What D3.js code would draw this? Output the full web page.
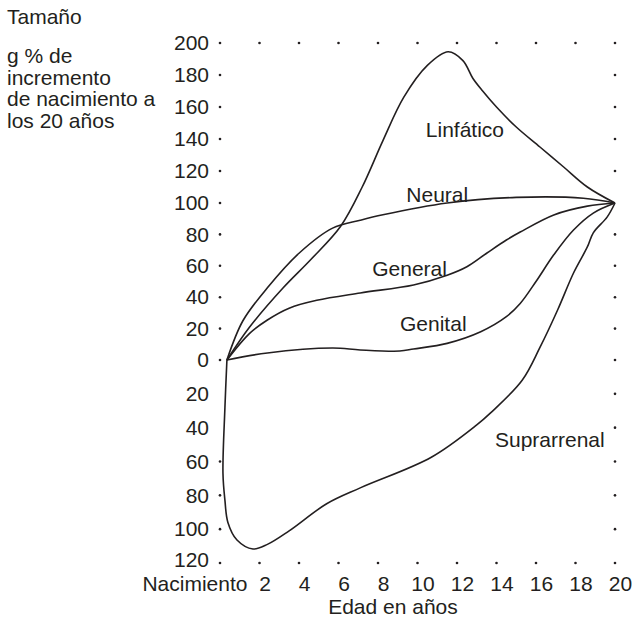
<!DOCTYPE html>
<html>
<head>
<meta charset="utf-8">
<script src="https://cdnjs.cloudflare.com/ajax/libs/d3/7.8.5/d3.min.js"></script>
<style>
  body { margin: 0; background: #fff; }
  svg text { font-family: "Liberation Sans", Arial, sans-serif; font-size: 21px; fill: #231f20; }
</style>
</head>
<body>
<div id="chart"></div>
<script>
// tick values and labels
const ageTicks = [0, 2, 4, 6, 8, 10, 12, 14, 16, 18, 20];
const ageLabels = ["Nacimiento", "2", "4", "6", "8", "10", "12", "14", "16", "18", "20"];
const sizeTicks = [200, 180, 160, 140, 120, 100, 80, 60, 40, 20, 0, -20, -40, -60, -80, -100, -120];
const sizeLabels = ["200", "180", "160", "140", "120", "100", "80", "60", "40", "20", "0", "20", "40", "60", "80", "100", "120"];
const leftDots = [200, 180, 160, 140, 120, 100, 80, 60, 40, 20, 0, -60, -80, -100, -120];
const rightDots = [200, 180, 160, 140, 120, 80, 60, 40, 20, 0, -20, -40, -60, -80, -100, -120];
const titleLines = ["g % de", "incremento", "de nacimiento a", "los 20 años"];

// curves: [age, % of size at 20]
const linfatico = [[0.35, 0], [1.5, 21], [3.2, 46], [4.6, 64], [6.1, 85], [7.2, 110], [8.25, 139], [9.3, 166],
  [10.5, 186], [11.55, 194.5], [12.3, 189], [12.8, 178], [13.3, 170], [14, 160], [15, 147.5], [16.2, 135],
  [17.4, 122.5], [18.6, 110], [20, 100]];
const neural = [[0.35, 0], [1.16, 25], [2.4, 46], [4, 68], [5.7, 84], [7.1, 89], [8.25, 92.5], [11.5, 100],
  [15, 103.5], [18.4, 103], [20, 100]];
const general = [[0.35, 0], [1.5, 17], [2.4, 25.5], [3.5, 33], [4.9, 38], [7.1, 42.7], [9.8, 47.8], [11.5, 54],
  [12.5, 59.4], [13.5, 68], [14.5, 76.4], [15.2, 81.5], [16.9, 92.4], [18.6, 98], [20, 100]];
const genital = [[0.35, 0], [2.4, 4.5], [5.7, 7.6], [7.1, 6.4], [9.1, 5.7], [9.8, 7], [11.5, 10.6], [13.2, 18],
  [14.5, 27.6], [15.2, 36], [16, 50], [16.9, 67], [17.9, 82.8], [18.9, 93.6], [20, 100]];
const suprarrenal = [[0.35, 0], [0.25, -28], [0.15, -67], [0.25, -83], [0.4, -96], [0.86, -106.4], [1.67, -111.7],
  [2.4, -109], [3.5, -101], [5.4, -85], [7.1, -75.6], [10.7, -57.5], [13, -38.4], [13.7, -31.3], [15.3, -12],
  [16.2, 8], [17.1, 32], [17.9, 55.4], [18.6, 72], [18.9, 81], [19.6, 91], [20, 100]];

const curveLabels = [
  { text: "Linfático", age: 12.4, value: 146 },
  { text: "Neural", age: 11, value: 105 },
  { text: "General", age: 9.6, value: 58 },
  { text: "Genital", age: 10.8, value: 23 },
  { text: "Suprarrenal", age: 16.7, value: -47 }
];

const width = 635, height = 619;
const ink = "#231f20";

const svg = d3.select("#chart")
  .append("svg")
  .attr("width", width)
  .attr("height", height);

const x = d3.scaleLinear().domain([0, 20]).range([220, 615]);
// hand drawn axis: spacing is not quite even
const y = d3.scaleLinear().domain([-120, 0, 100, 200]).range([563, 360, 203, 43]);

// title at top left
svg.append("text").attr("x", 7).attr("y", 24).text("Tamaño");
svg.append("g").selectAll("text")
  .data(titleLines)
  .enter()
  .append("text")
  .attr("x", 7)
  .attr("y", (d, i) => 63 + i * 21.6)
  .text(d => d);

// y axis labels (below 0 shown without sign)
const yAxis = svg.append("g")
  .attr("transform", "translate(" + x(0) + ",0)")
  .call(d3.axisLeft(y).tickValues(sizeTicks).tickFormat((d, i) => sizeLabels[i]).tickSize(0).tickPadding(11));
yAxis.select(".domain").remove();
yAxis.attr("font-size", null).attr("font-family", null);
// bottom label sits a little higher so it clears "Nacimiento"
yAxis.selectAll(".tick text").filter(d => d === -120).attr("y", -3);

// x axis labels
const xAxis = svg.append("g")
  .attr("transform", "translate(0," + y(-120) + ")")
  .call(d3.axisBottom(x).tickValues(ageTicks).tickFormat((d, i) => ageLabels[i]).tickSize(0).tickPadding(13));
xAxis.select(".domain").remove();
xAxis.attr("font-size", null).attr("font-family", null);
xAxis.selectAll(".tick text")
  .attr("x", d => d === 0 ? 27 : 5)
  .attr("text-anchor", d => d === 0 ? "end" : "middle");

svg.append("text")
  .attr("x", 393)
  .attr("y", 614)
  .attr("text-anchor", "middle")
  .text("Edad en años");

// dotted frame
const dots = [];
leftDots.forEach(v => dots.push([0, v]));
rightDots.forEach(v => dots.push([20, v]));
ageTicks.slice(1, -1).forEach(a => { dots.push([a, 200]); dots.push([a, -120]); });

svg.append("g").selectAll("circle")
  .data(dots)
  .enter()
  .append("circle")
  .attr("cx", d => x(d[0]))
  .attr("cy", d => y(d[1]))
  .attr("r", 1.3)
  .attr("fill", ink);

// curves
const line = d3.line()
  .x(d => x(d[0]))
  .y(d => y(d[1]))
  .curve(d3.curveCatmullRom.alpha(0.5));

[linfatico, neural, general, genital, suprarrenal].forEach(series => {
  svg.append("path")
    .datum(series)
    .attr("fill", "none")
    .attr("stroke", ink)
    .attr("stroke-width", 1.6)
    .attr("d", line);
});

svg.append("g").selectAll("text")
  .data(curveLabels)
  .enter()
  .append("text")
  .attr("x", d => x(d.age))
  .attr("y", d => y(d.value))
  .attr("dy", "0.35em")
  .attr("text-anchor", "middle")
  .text(d => d.text);
</script>
</body>
</html>
